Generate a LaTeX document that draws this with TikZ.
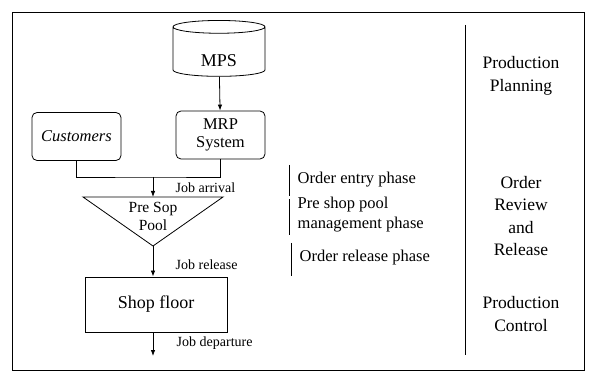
\documentclass[tikz,border=0pt]{standalone}
\usepackage{fontspec}
\setmainfont{Liberation Serif}
\usetikzlibrary{arrows.meta,shapes.geometric}

\begin{document}
\begin{tikzpicture}[x=1pt, y=-1pt, line width=0.8pt,
        store/.style={draw, cylinder, shape border rotate=90, aspect=0.3,
            minimum width=92pt, minimum height=50pt, text height=30pt, text depth=2pt,
            font=\fontsize{18}{20}\selectfont},
        unit/.style={draw, rounded corners=5pt, align=center, minimum width=89pt,
            minimum height=48pt, font=\fontsize{16.5}{18}\selectfont},
        flow/.style={-{Latex[length=6pt,width=4.5pt]}},
        joblabel/.style={anchor=west, font=\fontsize{14}{16}\selectfont},
        phase/.style={anchor=west, align=left, font=\fontsize{16.5}{20}\selectfont},
        stage/.style={align=center, font=\fontsize{17.5}{22.5}\selectfont}
    ]
        \useasboundingbox (0,0) rectangle (589,379);
        % outer frame
        \draw (12,12) rectangle (584,370);

        % 1. Planning inputs
        \node[store] (mps) at (219,53) {MPS};
        \node[unit] (mrp) at (220.5,135) {MRP\\System};
        \node[unit, font=\fontsize{16.5}{18}\selectfont\itshape] (cust) at (76.5,136.5) {Customers};
        \draw[flow] (mps) -- (mrp);

        % 2. Pre shop pool
        \coordinate (pool-l) at (83,197);
        \coordinate (pool-r) at (223,197);
        \coordinate (pool-top) at (153,197);
        \coordinate (pool-tip) at (153,246);
        \draw (pool-l) -- (pool-r) -- (pool-tip) -- cycle;
        \node[align=center, font=\fontsize{15.5}{18}\selectfont] (pool) at (153,216) {Pre Sop\\Pool};

        \coordinate (join) at (153,177);
        \draw (cust.south) |- (join) -| (mrp.south);
        \draw[flow] (join) -- (pool-top);
        \node[joblabel] (arrival) at (172,188) {Job arrival};

        % 3. Shop floor
        \node[draw, minimum width=142pt, minimum height=55pt, font=\fontsize{18}{20}\selectfont] (shop) at (156,304.5) {Shop floor};
        \draw[flow] (pool-tip) -- (pool-tip |- shop.north);
        \node[joblabel] (release) at (172,265) {Job release};
        \coordinate (exit) at (153,356);
        \draw[flow] (pool-tip |- shop.south) -- (exit);
        \node[joblabel] (departure) at (173,343) {Job departure};

        % Phases
        \draw[line width=0.6pt] (289,165) -- (289,196);
        \node[phase] (entry) at (294,180) {Order entry phase};
        \draw[line width=0.6pt] (289,199) -- (289,235);
        \node[phase] (poolmgmt) at (294,215) {Pre shop pool\\management phase};
        \draw[line width=0.6pt] (291,243) -- (291,276);
        \node[phase] (releasephase) at (296,258) {Order release phase};

        % Levels
        \draw[line width=0.6pt] (465,25) -- (465,355);
        \node[stage] (planning) at (521,76) {Production\\Planning};
        \node[stage] (review) at (521,216) {Order\\Review\\and\\Release};
        \node[stage] (control) at (521,314) {Production\\Control};
    \end{tikzpicture}
\end{document}
